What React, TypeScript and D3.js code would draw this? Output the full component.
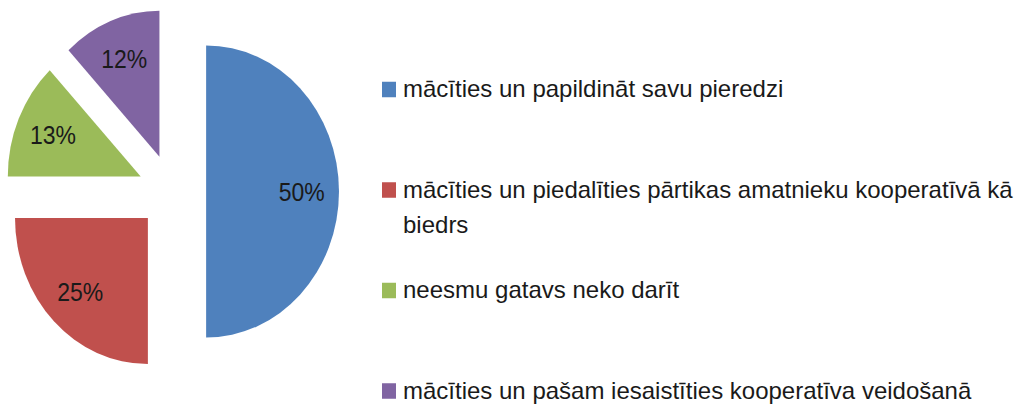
import React from "react";
import * as d3 from "d3";

const categories = [
  "mācīties un papildināt savu pieredzi",
  "mācīties un piedalīties pārtikas amatnieku kooperatīvā kā biedrs",
  "neesmu gatavs neko darīt",
  "mācīties un pašam iesaistīties kooperatīva veidošanā",
];
const values = [50, 25, 13, 12];
const colors = ["#4F81BD", "#C0504D", "#9BBB59", "#8064A2"];

const W = 1023;
const H = 405;
const CX = 172;
const CY = 191.5;
const R = 146;
const EXPLODE = 37.5;
const SX = 0.91;
const LABEL_R = 0.72 * R;
const FONT = "'Liberation Sans', Arial, sans-serif";
const LEGEND_FS = 24;
const LEGEND_X = 382;
const LEGEND_MAX_W = 620;

function wrap(text: string, maxW: number): string[] {
  let ctx: CanvasRenderingContext2D | null = null;
  if (typeof document !== "undefined") {
    ctx = document.createElement("canvas").getContext("2d");
  }
  if (!ctx) return [text];
  ctx.font = `${LEGEND_FS}px ${FONT}`;
  const words = text.split(" ");
  const lines: string[] = [];
  let cur = "";
  for (const w of words) {
    const t = cur ? cur + " " + w : w;
    if (ctx.measureText(t).width > maxW && cur) {
      lines.push(cur);
      cur = w;
    } else cur = t;
  }
  if (cur) lines.push(cur);
  return lines;
}

export default function App() {
  const pie = d3.pie<number>().sort(null).value((d) => d);
  const arcs = pie(values);
  const arcGen = d3.arc<d3.PieArcDatum<number>>().innerRadius(0).outerRadius(R);
  const labelArc = d3
    .arc<d3.PieArcDatum<number>>()
    .innerRadius(LABEL_R)
    .outerRadius(LABEL_R);

  const legendY = d3.scaleLinear().domain([0, 3]).range([89.5, 391]);

  return (
    <svg
      width={W}
      height={H}
      style={{ position: "absolute", left: 0, top: 0, background: "#fff" }}
    >
      <g transform={`translate(${CX},${CY}) scale(${SX},1)`}>
        {arcs.map((a, i) => {
          const mid = (a.startAngle + a.endAngle) / 2;
          const dx = Math.sin(mid) * EXPLODE;
          const dy = -Math.cos(mid) * EXPLODE;
          return (
            <path
              key={i}
              d={arcGen(a) || ""}
              transform={`translate(${dx},${dy})`}
              fill={colors[i]}
            />
          );
        })}
      </g>
      {arcs.map((a, i) => {
        const mid = (a.startAngle + a.endAngle) / 2;
        const dx = Math.sin(mid) * EXPLODE;
        const dy = -Math.cos(mid) * EXPLODE;
        const [lx, ly] = labelArc.centroid(a);
        const x = CX + (lx + dx) * SX;
        const y = CY + ly + dy;
        return (
          <text
            key={i}
            transform={`translate(${x},${y + 9}) scale(0.92,1)`}
            textAnchor="middle"
            fontFamily={FONT}
            fontSize={25}
            fill="#1a1a1a"
          >
            {`${values[i]}%`}
          </text>
        );
      })}
      {categories.map((c, i) => {
        const cy = legendY(i);
        const lines = wrap(c, LEGEND_MAX_W);
        return (
          <g key={i}>
            <rect
              x={LEGEND_X}
              y={cy - 7.75}
              width={14}
              height={15.5}
              fill={colors[i]}
            />
            <text
              x={LEGEND_X + 21}
              y={cy + 7.5}
              fontFamily={FONT}
              fontSize={LEGEND_FS}
              fill="#1a1a1a"
            >
              {lines.map((l, j) => (
                <tspan key={j} x={LEGEND_X + 21} dy={j === 0 ? 0 : 35}>
                  {l}
                </tspan>
              ))}
            </text>
          </g>
        );
      })}
    </svg>
  );
}
